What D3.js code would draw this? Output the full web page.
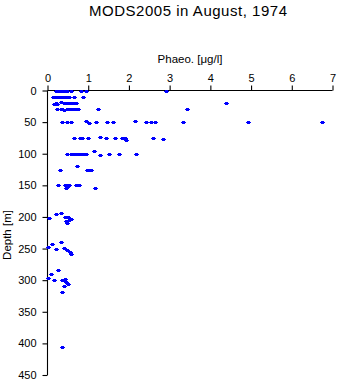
<!DOCTYPE html>
<html><head><meta charset="utf-8">
<script src="https://cdn.jsdelivr.net/npm/d3@7"></script>
<style>body{margin:0;background:#fff}svg{display:block}text{font-family:"Liberation Sans",Arial,Helvetica,sans-serif;fill:#000}</style>
</head><body>
<script>
const title = "MODS2005 in August, 1974";
const xLabel = "Phaeo. [\u03bcg/l]";
const yLabel = "Depth [m]";
const xTicks = [0,1,2,3,4,5,6,7];
const yTicks = [0,50,100,150,200,250,300,350,400,450];
// observations: depth [m] and phaeopigment [µg/l]
const depth = [
 0,0,0,0,0,0,0,0,0,0,0,0,0,
 10,10,10,10,10,10,10,10,10,10,10,10,
 21,20,22,18,20,20,20,20,20,20,20,20,
 29,30,30,31,30,30,30,30,30,30,30,30,29,29,
 50,50,50,49,51,50,50,50,49,50,50,50,50,50,50,
 75,75,75,75,74,75,75,75,75,78,75,77,
 100,100,100,100,100,100,100,100,100,95,102,100,100,101,
 125,120,125,125,125,
 150,150,153,150,150,154,149,150,155,
 201,196,193,200,200,200,204,205,209,207,
 248,243,251,240,249,252,255,258,284,291,
 296,300,300,298,303,306,310,318,300,405
];
const phaeo = [
 0.2,0.23,0.27,0.3,0.33,0.37,0.4,0.43,0.47,0.57,0.83,0.94,2.9,
 0.13,0.21,0.25,0.29,0.33,0.37,0.41,0.45,0.49,0.52,0.65,0.88,
 0.16,0.2,0.24,0.33,0.4,0.45,0.5,0.55,0.6,0.65,0.69,4.39,
 0.24,0.32,0.36,0.4,0.48,0.52,0.56,0.6,0.64,0.68,0.72,0.75,1.25,3.43,
 0.36,0.47,0.57,0.95,1.02,1.2,1.45,1.62,2.15,2.41,2.53,2.64,3.32,4.93,6.75,
 0.65,0.8,0.85,1.0,1.28,1.44,1.67,1.82,1.9,1.93,2.58,2.83,
 0.47,0.57,0.62,0.67,0.72,0.77,0.84,0.89,0.94,1.14,1.29,1.52,1.76,2.18,
 0.3,0.73,0.98,1.02,1.06,
 0.26,0.43,0.47,0.5,0.53,0.45,0.71,0.77,1.16,
 0.04,0.2,0.33,0.43,0.47,0.5,0.57,0.52,0.47,0.45,
 0.0,0.1,0.22,0.34,0.41,0.47,0.55,0.57,0.26,0.09,
 0.01,0.16,0.36,0.43,0.46,0.51,0.4,0.36,0.4,0.36
];

const W = 338, H = 384;
const svg = d3.select("body").append("svg").attr("width", W).attr("height", H);
const x = d3.scaleLinear().domain([0,7]).range([47.5,332.5]);
const y = d3.scaleLinear().domain([0,450]).range([90.5,375]);

svg.append("text").attr("x",188).attr("y",16).attr("text-anchor","middle")
  .attr("font-size",15).attr("textLength",198).attr("lengthAdjust","spacing").text(title);
svg.append("text").attr("x",190).attr("y",63).attr("text-anchor","middle")
  .attr("font-size",11.5).text(xLabel);
svg.append("text").attr("transform","translate(11,235) rotate(-90)").attr("text-anchor","middle")
  .attr("font-size",11.5).text(yLabel);

const xAxis = svg.append("g").attr("transform","translate(0,90.5)")
  .call(d3.axisTop(x).tickValues(xTicks).tickSize(5).tickPadding(4).tickFormat(d3.format("d")));
const yAxis = svg.append("g").attr("transform","translate(47.5,0)")
  .call(d3.axisLeft(y).tickValues(yTicks).tickSize(5).tickPadding(6).tickFormat(d3.format("d")));
[xAxis,yAxis].forEach(g=>{
  g.selectAll(".tick line").attr("stroke","#000").attr("stroke-width",1.1);
  g.selectAll("text").attr("font-size",11).attr("font-family","'Liberation Sans',Arial,sans-serif").attr("fill","#000");
});
xAxis.select(".domain").attr("stroke","#000").attr("stroke-width",1.1).attr("d","M47.5,0H332.5");
yAxis.select(".domain").attr("stroke","#000").attr("stroke-width",1.1).attr("d","M0,90.5V375");

const pts = depth.map((d,i)=>({d, p: phaeo[i]}));
// small plus-like marker: 3x3 block with 1px arms left/right
const marker = "M-1.5,-1.5h3v1h1v1h-1v1h-3v-1h-1v-1h1z";
svg.append("g").selectAll("path").data(pts).enter().append("path")
  .attr("transform", d=>`translate(${Math.round(x(d.p))},${Math.round(y(d.d))})`)
  .attr("d", marker).attr("fill","#0000ff").attr("shape-rendering","crispEdges");
</script>
</body></html>
